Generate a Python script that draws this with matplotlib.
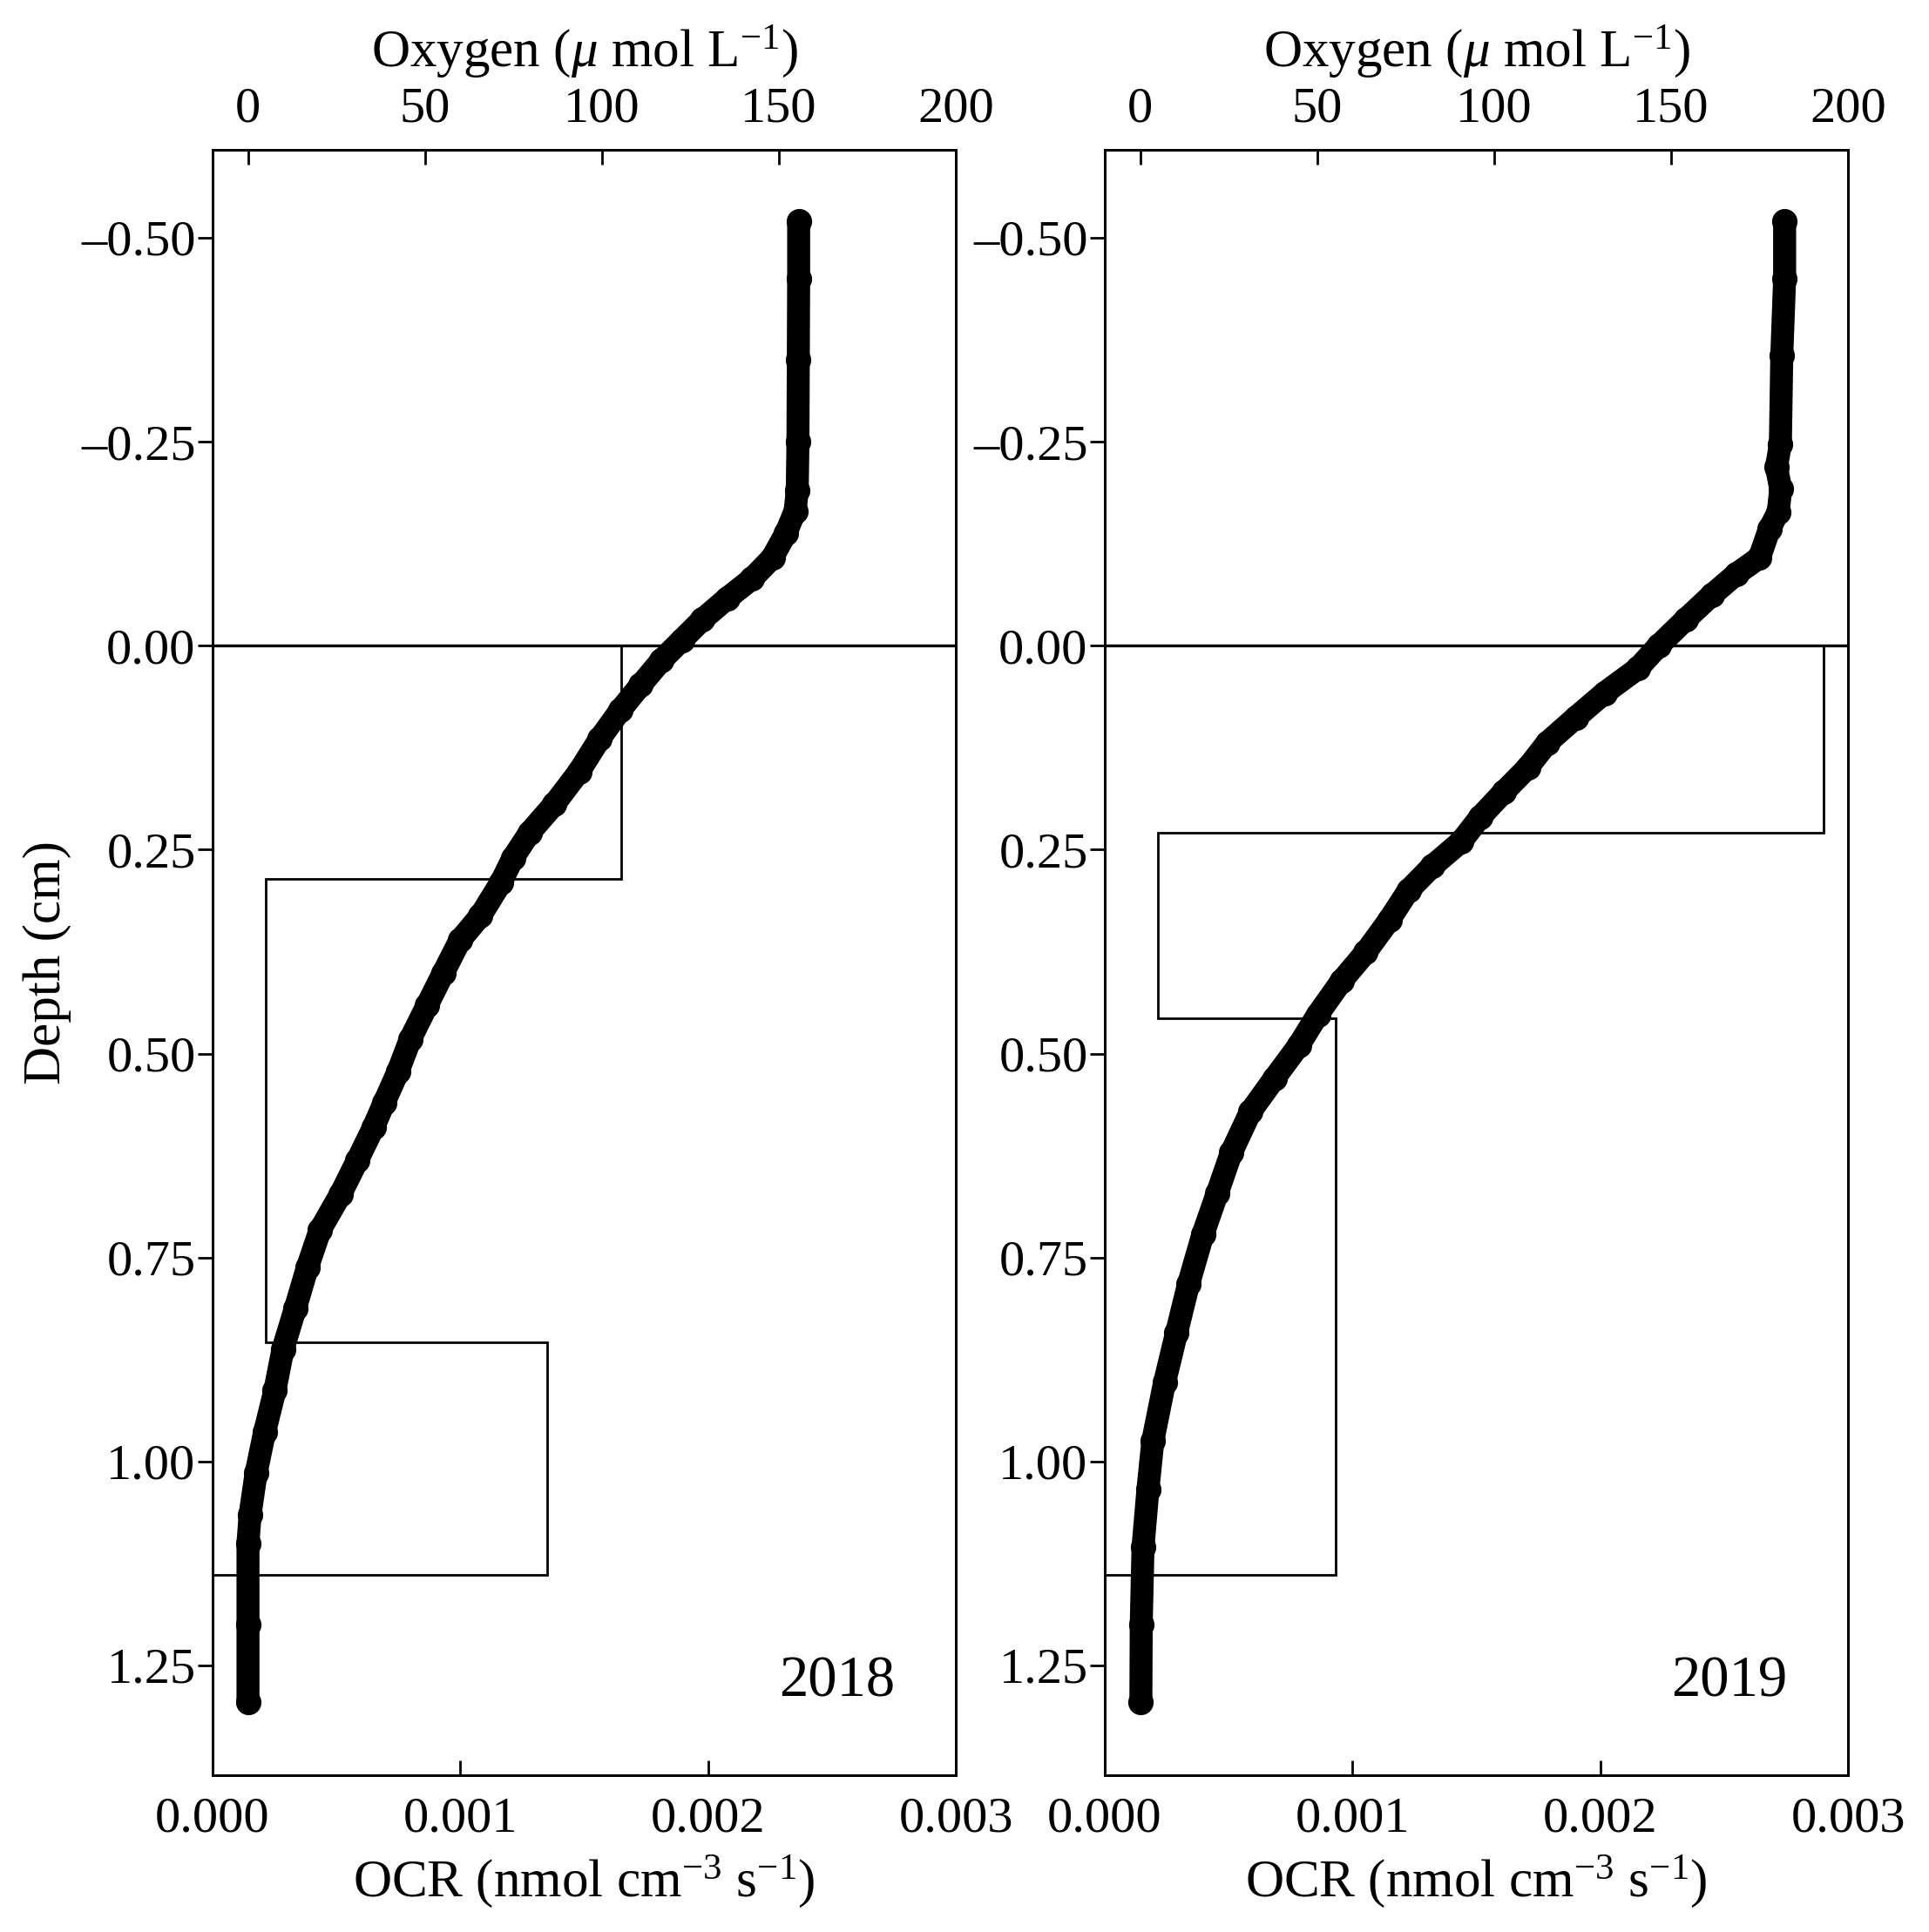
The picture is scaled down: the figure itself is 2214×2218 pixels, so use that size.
import numpy as np
import matplotlib
matplotlib.use("Agg")
import matplotlib.pyplot as plt

plt.rcParams['font.family'] = ['Liberation Serif', 'DejaVu Serif']
plt.rcParams['mathtext.fontset'] = 'custom'
plt.rcParams['mathtext.rm'] = 'Liberation Serif'
plt.rcParams['mathtext.it'] = 'Liberation Serif:italic'

# oxygen profiles (depth cm, O2 umol/L)
depth_2018 = [-0.52, -0.45, -0.35, -0.25, -0.19, -0.165, -0.138, -0.108, -0.082, -0.058,
              -0.032, -0.007, 0.018, 0.048, 0.079, 0.114, 0.154, 0.194, 0.229, 0.260,
              0.290, 0.331, 0.361, 0.401, 0.441, 0.482, 0.522, 0.560, 0.590, 0.631,
              0.672, 0.716, 0.762, 0.812, 0.862, 0.913, 0.964, 1.014, 1.065, 1.100,
              1.200, 1.295]
o2_2018 = [155.6, 155.6, 155.5, 155.4, 155.2, 154.6, 152.0, 148.2, 142.4, 135.4,
           128.4, 122.6, 116.8, 111.0, 105.2, 99.4, 93.6, 86.6, 79.6, 74.9,
           71.5, 65.7, 59.9, 55.2, 50.6, 45.9, 42.4, 38.5, 35.5, 30.9,
           26.2, 20.4, 16.8, 13.4, 9.9, 7.6, 4.7, 2.3, 0.6, 0.0,
           0.0, 0.0]

depth_2019 = [-0.52, -0.45, -0.356, -0.247, -0.219, -0.192, -0.164, -0.143, -0.108, -0.088,
              -0.062, -0.032, 0.0, 0.028, 0.058, 0.088, 0.119, 0.149, 0.179, 0.210,
              0.240, 0.270, 0.300, 0.336, 0.376, 0.411, 0.452, 0.490, 0.530, 0.571,
              0.621, 0.671, 0.722, 0.782, 0.842, 0.903, 0.974, 1.034, 1.105, 1.200,
              1.295]
o2_2019 = [182.1, 182.1, 181.3, 180.9, 179.8, 181.0, 180.3, 177.8, 175.0, 168.5,
           161.5, 154.1, 146.5, 140.6, 131.2, 123.1, 115.0, 109.6, 102.8, 96.1,
           90.7, 82.6, 75.8, 70.4, 63.7, 56.9, 50.2, 44.8, 38.0, 31.2,
           25.8, 21.8, 17.7, 13.7, 10.3, 6.9, 3.6, 2.2, 0.8, 0.3,
           0.2]

# OCR zones (nmol cm-3 s-1)
edges_2018 = [0.0, 0.286, 0.854, 1.139]
ocr_2018 = [0.00165, 0.000215, 0.00135]
edges_2019 = [0.0, 0.229, 0.457, 1.139]
ocr_2019 = [0.00290, 0.000213, 0.000932]

years = ['2018', '2019']

W, H = 2214, 2218
fig = plt.figure(figsize=(W / 200, H / 200), dpi=200)

lefts = [244 / W, 1268 / W]
bottom = 1 - 2037.5 / H
height = (2037.5 - 172.3) / H
width = 853 / W

FS = 21
panels = [(depth_2018, o2_2018, edges_2018, ocr_2018),
          (depth_2019, o2_2019, edges_2019, ocr_2019)]

for i, (dep, o2, edg, ocr) in enumerate(panels):
    ax = fig.add_axes([lefts[i], bottom, width, height])
    ax.stairs(ocr, edg, orientation='horizontal', baseline=0, color='black',
              linewidth=1.0, zorder=2)
    ax.axhline(0, color='black', linewidth=1.2, zorder=2)
    ax.set_xlim(0, 0.003)
    ax.set_ylim(1.384, -0.6075)
    ax.set_xticks([0, 0.001, 0.002, 0.003])
    ax.set_xticklabels(['0.000', '0.001', '0.002', '0.003'])
    ax.set_yticks([-0.5, -0.25, 0, 0.25, 0.5, 0.75, 1.0, 1.25])
    ax.set_yticklabels(['\u20130.50', '\u20130.25', '0.00', '0.25', '0.50',
                        '0.75', '1.00', '1.25'])
    ax.tick_params(axis='x', direction='in', length=6, width=1, labelsize=FS, pad=9)
    ax.tick_params(axis='y', direction='out', length=6, width=1, labelsize=FS, pad=1)
    ax.set_xlabel('OCR (nmol cm$^{-3}$ s$^{-1}$)', fontsize=22, labelpad=5)
    if i == 0:
        ax.set_ylabel('Depth (cm)', fontsize=22, labelpad=4)
    for s in ax.spines.values():
        s.set_linewidth(1.0)

    axt = ax.twiny()
    axt.plot(o2, dep, '-o', color='black', linewidth=9.5, markersize=9.5,
             solid_capstyle='round', solid_joinstyle='round', zorder=3)
    axt.set_xlim(-10, 200)
    axt.set_xticks([0, 50, 100, 150, 200])
    axt.tick_params(axis='x', direction='in', length=6, width=1, labelsize=FS, pad=7.5)
    axt.set_xlabel('Oxygen ($\\mu$ mol L$^{-1}$)', fontsize=22, labelpad=8.5)
    for s in axt.spines.values():
        s.set_linewidth(1.0)

    ax.text(0.84, 0.057, years[i], transform=ax.transAxes, fontsize=24,
            ha='center', va='center')

fig.savefig('out.png', dpi=200)
